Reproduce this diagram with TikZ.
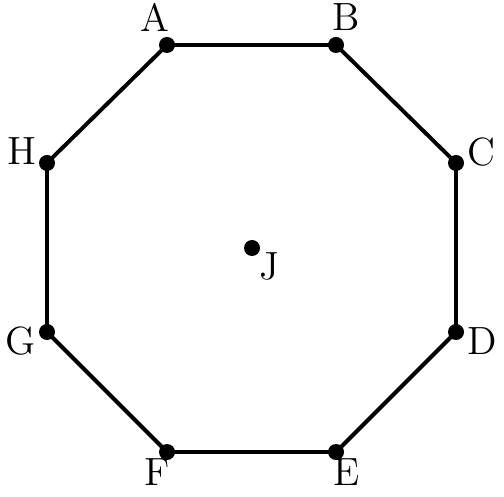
\documentclass[tikz,border=0pt]{standalone}
\usetikzlibrary{positioning}

\begin{document}
\begin{tikzpicture}[x=0.0125cm, y=-0.0125cm,
  font=\fontsize{14}{17}\selectfont,
  vertex/.style={circle, fill=black, inner sep=0pt, minimum size=0.2cm},
  edge/.style={line width=1.4pt},
  lab/.style={anchor=base, inner sep=0pt}]
\useasboundingbox (0,0) rectangle (504,497);
% ---- vertices ----
\node[vertex] (A) at (167,45) {};
\node[vertex] (B) at (336,45) {};
\node[vertex] (C) at (456,163) {};
\node[vertex] (D) at (456,332) {};
\node[vertex] (E) at (336,452) {};
\node[vertex] (F) at (167,452) {};
\node[vertex] (G) at (47,332) {};
\node[vertex] (H) at (47,163) {};
\node[vertex] (J) at (252,248) {};
% ---- octagon ----
\draw[edge] (A.center) -- (B.center) -- (C.center) -- (D.center) -- (E.center)
  -- (F.center) -- (G.center) -- (H.center) -- (A.center);
% ---- labels ----
\node[lab] (labA) at (155,32) {A};
\node[lab] (labB) at (346,31) {B};
\node[lab] (labC) at (481,166) {C};
\node[lab] (labD) at (482,354) {D};
\node[lab] (labE) at (347,485) {E};
\node[lab] (labF) at (157,485) {F};
\node[lab] (labG) at (21,354) {G};
\node[lab] (labH) at (22,165) {H};
\node[lab] (labJ) at (269,280) {J};
\end{tikzpicture}
\end{document}
